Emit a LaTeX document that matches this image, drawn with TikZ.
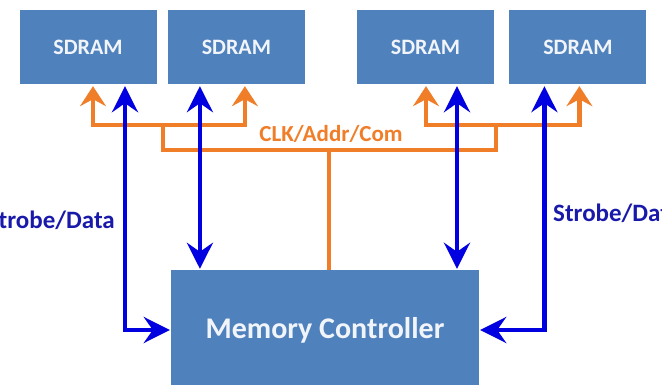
\documentclass[tikz,border=0pt]{standalone}
\usepackage{fontspec}
\setmainfont{Carlito}
\usetikzlibrary{arrows.meta,positioning}
\definecolor{boxCol}{RGB}{79,129,189}
\definecolor{clkCol}{RGB}{240,125,40}
\definecolor{datCol}{RGB}{0,0,225}
\definecolor{labCol}{RGB}{25,25,170}
\tikzset{
  chip/.style={draw=none,fill=boxCol,text=white!92!boxCol,font=\fontsize{22}{26}\selectfont\bfseries,
               minimum width=137pt,minimum height=74pt,inner sep=0pt},
  ctrl/.style={chip,font=\fontsize{30}{34}\selectfont\bfseries,minimum width=308pt,minimum height=120pt},
  clkbus/.style={draw=clkCol,line width=4.5pt},
  clk/.style={clkbus,{Stealth[length=20pt,width=26pt,inset=7pt]}-{Stealth[length=20pt,width=26pt,inset=7pt]},
              shorten <=2pt,shorten >=2pt},
  data/.style={draw=datCol,line width=4.5pt,{Stealth[length=26pt,width=26pt,inset=9pt]}-{Stealth[length=26pt,width=26pt,inset=9pt]},
               shorten <=2pt,shorten >=1pt},
  lab/.style={font=\fontsize{25}{29}\selectfont\bfseries,inner sep=0pt},
}

\begin{document}
\begin{tikzpicture}[x=1pt,y=-1pt]
  \useasboundingbox (0,0) rectangle (662,385);
  % the four chips and the controller
  \node[chip] (s1) at (88,47) {SDRAM};
  \node[chip,right=11pt of s1] (s2) {SDRAM};
  \node[chip] (s3) at (425.5,47) {SDRAM};
  \node[chip,right=15pt of s3] (s4) {SDRAM};
  \node[ctrl] (mc) at (325,330) {Memory Controller};
  % clock / address / command tree
  \coordinate (jL) at (163,125);
  \coordinate (jR) at (496,125);
  \coordinate (busL) at (163,150);
  \coordinate (busR) at (496,150);
  \coordinate (busM) at (329,150);
  \draw[clk] ([xshift=5pt]s1.south) |- (jL) -| ([xshift=8.5pt]s2.south);
  \draw[clk] ([xshift=0.5pt]s3.south) |- (jR) -| ([xshift=1.5pt]s4.south);
  \draw[clkbus] (jL) -- (busL) -- (busR) -- (jR);
  \draw[clkbus] (busM) -- (busM |- mc.north);
  \node[lab,text=clkCol,font=\fontsize{23}{27}\selectfont\bfseries] (clklab) at (331,134) {CLK/Addr/Com};
  % strobe / data lines
  \draw[data] ([xshift=37pt]s1.south) |- (mc.west);
  \draw[data] ([xshift=-36.5pt]s2.south) -- ([xshift=-36.5pt]s2.south |- mc.north);
  \draw[data] ([xshift=31.5pt]s3.south) -- ([xshift=31.5pt]s3.south |- mc.north);
  \draw[data] ([xshift=-33.5pt]s4.south) |- (mc.east);
  \node[lab,text=labCol,anchor=east] (dlabL) at (115,220) {Strobe/Data};
  \node[lab,text=labCol,anchor=west] (dlabR) at (553,213) {Strobe/Data};
\end{tikzpicture}
\end{document}
